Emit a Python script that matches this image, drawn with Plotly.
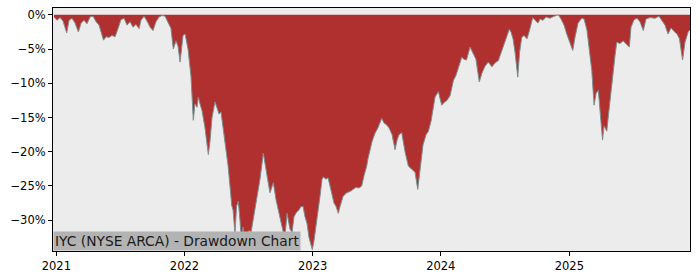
import pandas as pd
import plotly.graph_objects as go

# Time in decimal years, drawdown in percent
years = [
    2020.982, 2021.005, 2021.029, 2021.052, 2021.081, 2021.099, 2021.122, 2021.146, 2021.172, 2021.193,
    2021.216, 2021.239, 2021.263, 2021.286, 2021.310, 2021.333, 2021.349, 2021.368, 2021.388, 2021.411,
    2021.434, 2021.458, 2021.481, 2021.504, 2021.528, 2021.551, 2021.575, 2021.598, 2021.621, 2021.645,
    2021.660, 2021.684, 2021.707, 2021.731, 2021.754, 2021.777, 2021.801, 2021.824, 2021.848, 2021.871,
    2021.894, 2021.912, 2021.933, 2021.949, 2021.965, 2021.988, 2022.004, 2022.027, 2022.050, 2022.068,
    2022.081, 2022.097, 2022.107, 2022.120, 2022.136, 2022.159, 2022.185, 2022.198, 2022.214, 2022.237,
    2022.253, 2022.269, 2022.284, 2022.300, 2022.323, 2022.339, 2022.354, 2022.368, 2022.378, 2022.393,
    2022.405, 2022.419, 2022.432, 2022.446, 2022.456, 2022.471, 2022.487, 2022.503, 2022.518, 2022.534,
    2022.549, 2022.573, 2022.588, 2022.614, 2022.627, 2022.643, 2022.666, 2022.692, 2022.713, 2022.729,
    2022.744, 2022.770, 2022.783, 2022.799, 2022.814, 2022.822, 2022.838, 2022.853, 2022.874, 2022.892,
    2022.908, 2022.924, 2022.939, 2022.955, 2022.970, 2022.986, 2022.996, 2023.009, 2023.025, 2023.041,
    2023.056, 2023.072, 2023.082, 2023.103, 2023.119, 2023.134, 2023.150, 2023.165, 2023.181, 2023.199,
    2023.212, 2023.236, 2023.264, 2023.290, 2023.313, 2023.337, 2023.360, 2023.381, 2023.399, 2023.420,
    2023.430, 2023.446, 2023.462, 2023.485, 2023.508, 2023.537, 2023.555, 2023.571, 2023.594, 2023.618,
    2023.641, 2023.657, 2023.672, 2023.693, 2023.703, 2023.719, 2023.745, 2023.766, 2023.781, 2023.797,
    2023.818, 2023.836, 2023.859, 2023.883, 2023.901, 2023.922, 2023.937, 2023.953, 2023.979, 2024.005,
    2024.023, 2024.046, 2024.070, 2024.096, 2024.117, 2024.140, 2024.161, 2024.179, 2024.198, 2024.226,
    2024.249, 2024.272, 2024.298, 2024.319, 2024.343, 2024.368, 2024.397, 2024.421, 2024.446, 2024.475,
    2024.499, 2024.514, 2024.532, 2024.545, 2024.561, 2024.577, 2024.598, 2024.612, 2024.629, 2024.647,
    2024.670, 2024.686, 2024.715, 2024.733, 2024.756, 2024.772, 2024.795, 2024.818, 2024.849, 2024.881,
    2024.914, 2024.935, 2024.959, 2024.980, 2024.998, 2025.013, 2025.027, 2025.044, 2025.068, 2025.097,
    2025.115, 2025.138, 2025.154, 2025.175, 2025.193, 2025.208, 2025.226, 2025.239, 2025.253, 2025.259,
    2025.271, 2025.292, 2025.306, 2025.317, 2025.331, 2025.343, 2025.356, 2025.370, 2025.395, 2025.419,
    2025.442, 2025.468, 2025.481, 2025.505, 2025.528, 2025.551, 2025.577, 2025.598, 2025.629, 2025.668,
    2025.699, 2025.723, 2025.746, 2025.770, 2025.793, 2025.816, 2025.840, 2025.859, 2025.883, 2025.902,
    2025.928, 2025.941,
]
drawdown = [
    -0.3, -0.8, -0.4, -0.9, -2.65, -0.8, -0.5, -1.2, -2.5, -1.2,
    -0.8, -1.3, -0.3, -0.2, -1.0, -1.5, -2.5, -3.7, -3.2, -3.3,
    -3.0, -3.2, -2.0, -0.7, -0.5, -1.5, -1.0, -1.8, -1.4, -2.0,
    -0.8, -0.2, -0.9, -1.8, -2.3, -1.0, -0.3, -0.1, -0.2, -1.0,
    -2.0, -5.0, -3.8, -4.6, -6.9, -3.0, -2.8, -5.0, -9.0, -15.4,
    -13.0, -13.5, -12.0, -13.0, -14.0, -16.5, -20.4, -18.5, -15.0, -12.7,
    -13.5, -14.5, -14.2, -16.5, -19.0, -22.0, -25.0, -27.9, -28.5, -32.0,
    -28.0, -27.2, -30.0, -33.7, -31.0, -34.0, -32.5, -31.5, -31.8, -30.0,
    -28.5, -26.0, -24.0, -20.2, -21.5, -23.5, -26.0, -24.5, -27.0, -28.5,
    -29.4, -31.8, -32.3, -29.0, -30.5, -31.3, -31.8, -29.5, -28.8, -28.5,
    -28.0, -28.0, -29.5, -30.5, -32.5, -33.5, -34.3, -33.0, -31.0, -28.5,
    -26.5, -24.0, -23.7, -24.0, -23.8, -25.0, -26.5, -27.5, -28.0, -29.0,
    -28.0, -26.5, -26.0, -25.8, -25.5, -25.2, -25.3, -25.0, -23.5, -22.1,
    -21.0, -19.7, -18.5, -17.3, -16.5, -15.1, -15.8, -16.0, -16.5, -17.5,
    -19.7, -18.3, -17.5, -17.2, -18.5, -20.0, -22.1, -22.5, -22.8, -23.0,
    -25.5, -22.5, -19.0, -17.5, -17.0, -15.5, -13.5, -12.0, -11.2, -13.2,
    -12.8, -12.5, -11.8, -9.6, -8.8, -7.5, -6.2, -6.5, -6.6, -4.7,
    -5.5, -6.5, -9.8, -8.5, -7.5, -6.9, -7.6, -7.0, -6.7, -5.2,
    -4.0, -3.0, -2.1, -2.5, -3.5, -5.5, -9.1, -5.5, -3.3, -3.0,
    -3.5, -2.5, -0.4, -0.8, -1.2, -0.6, -0.8, -0.3, -0.5, -0.2,
    0.0, -0.6, -1.5, -2.8, -3.8, -4.6, -5.2, -3.3, -1.2, -0.5,
    -0.6, -2.3, -5.0, -8.1, -13.2, -11.5, -11.0, -13.5, -16.3, -18.3,
    -16.2, -17.0, -14.5, -12.5, -10.3, -8.6, -6.0, -4.0, -4.2, -3.8,
    -4.3, -4.7, -1.8, -0.7, -0.5, -1.0, -2.3, -0.6, -0.4, -0.5,
    -0.2, -0.8, -1.5, -2.8, -1.9, -2.4, -2.8, -3.5, -6.6, -4.0,
    -2.4, -2.2,
]
y_tick_vals = [0, -5, -10, -15, -20, -25, -30]
y_tick_text = ["0%", "\u22125%", "\u221210%", "\u221215%", "\u221220%", "\u221225%", "\u221230%"]
x_tick_years = [2021, 2022, 2023, 2024, 2025]
title_text = "IYC (NYSE ARCA) - Drawdown Chart"

base = pd.Timestamp("2021-01-01")


def to_date(yr):
    return base + pd.to_timedelta((yr - 2021) * 365.25, unit="D")


dates = [to_date(v) for v in years]
x_ticks = [pd.Timestamp(f"{y}-01-01") for y in x_tick_years]

fig = go.Figure()
fig.add_trace(go.Scatter(x=dates, y=[0] * len(dates), mode="lines",
                         line=dict(width=0, color="rgba(0,0,0,0)"),
                         hoverinfo="skip", showlegend=False))
fig.add_trace(go.Scatter(x=dates, y=drawdown, mode="lines", fill="tonexty",
                         fillcolor="#b03030", line=dict(color="#7f8c8d", width=1),
                         showlegend=False))

fig.update_layout(
    width=700, height=280,
    margin=dict(l=53, r=10, t=7, b=28),
    paper_bgcolor="white", plot_bgcolor="#ececec",
    font=dict(family="DejaVu Sans", size=11.5, color="black"),
    xaxis=dict(range=[to_date(2020.974), to_date(2025.941)],
               tickvals=x_ticks, ticktext=[str(y) for y in x_tick_years],
               ticks="outside", ticklen=4, tickcolor="black",
               showline=True, linecolor="black", linewidth=1, mirror=True,
               showgrid=False, zeroline=False),
    yaxis=dict(range=[-34.5, 1.0], tickvals=y_tick_vals, ticktext=y_tick_text,
               ticks="outside", ticklen=4, tickcolor="black",
               showline=True, linecolor="black", linewidth=1, mirror=True,
               showgrid=False, zeroline=False),
    annotations=[dict(text=title_text, xref="paper", yref="paper", x=0, y=0,
                      xanchor="left", yanchor="bottom", showarrow=False,
                      bgcolor="#b3b3b3", borderpad=1,
                      font=dict(family="DejaVu Sans", size=13.8, color="#1a1a1a"))],
)

fig.write_html("out.html")
